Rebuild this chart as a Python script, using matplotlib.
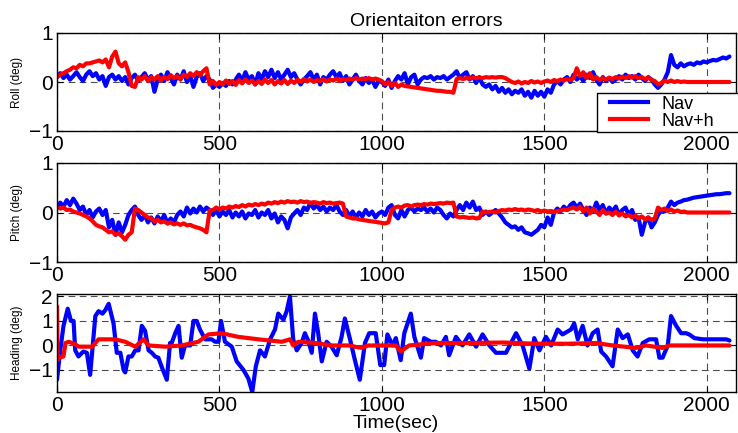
import numpy as np
import matplotlib
matplotlib.use('Agg')
import matplotlib.pyplot as plt
from matplotlib.lines import Line2D
from matplotlib.legend_handler import HandlerBase

plt.rcParams['font.family'] = ['Liberation Sans', 'DejaVu Sans']

# ---------------- data ----------------
t_grid = np.arange(0, 2071, 10)  # sampling instants (s), 208 samples

roll_nav = [
    0.10, 0.18, 0.08, 0.15, 0.05, 0.12, 0.20, 0.10, 0.02, 0.15,
    0.22, 0.12, 0.18, 0.05, 0.12, -0.08, 0.10, 0.15, 0.05, 0.12,
    0.02, 0.10, -0.05, 0.08, 0.15, 0.02, 0.10, 0.18, 0.05, 0.12,
    -0.20, 0.05, 0.15, 0.02, 0.20, 0.08, -0.05, 0.15, 0.05, 0.22,
    0.00, 0.12, -0.10, 0.10, 0.18, 0.02, 0.12, 0.05, -0.12, -0.05,
    -0.10, -0.02, -0.08, 0.02, -0.05, 0.05, 0.15, 0.02, 0.20, 0.05,
    0.12, -0.05, 0.18, 0.05, 0.22, 0.10, 0.25, 0.08, 0.20, 0.05,
    0.15, 0.25, 0.10, 0.18, 0.05, -0.05, 0.05, 0.12, 0.20, 0.05,
    0.15, -0.05, 0.10, 0.05, 0.15, 0.22, 0.10, 0.18, 0.02, 0.12,
    -0.05, 0.05, 0.15, 0.02, -0.05, 0.08, -0.02, 0.05, -0.10, 0.02,
    0.00, -0.08, 0.05, -0.12, 0.02, 0.12, 0.05, 0.18, -0.05, 0.10,
    0.15, -0.05, 0.05, 0.10, 0.08, 0.12, 0.05, 0.10, 0.08, 0.12,
    0.05, 0.10, 0.15, 0.22, 0.08, 0.15, 0.20, 0.05, 0.12, -0.02,
    0.10, -0.05, -0.10, -0.05, -0.15, -0.08, -0.20, -0.12, -0.22, -0.15,
    -0.25, -0.18, -0.22, -0.15, -0.28, -0.20, -0.32, -0.18, -0.28, -0.20,
    -0.30, -0.15, -0.22, -0.05, 0.02, -0.05, 0.05, 0.10, 0.00, 0.15,
    0.05, 0.12, 0.02, 0.15, 0.08, 0.20, 0.05, -0.05, 0.10, 0.02,
    0.08, 0.00, 0.05, 0.12, 0.05, 0.15, 0.08, 0.12, 0.05, 0.15,
    0.08, 0.02, 0.10, 0.05, -0.05, -0.12, -0.05, 0.05, 0.20, 0.55,
    0.35, 0.30, 0.38, 0.32, 0.36, 0.38, 0.35, 0.40, 0.38, 0.42,
    0.40, 0.43, 0.45, 0.44, 0.47, 0.50, 0.48, 0.52,
]

roll_navh = [
    0.10, 0.15, 0.18, 0.22, 0.25, 0.30, 0.28, 0.35, 0.32, 0.38,
    0.38, 0.40, 0.42, 0.44, 0.40, 0.46, 0.30, 0.52, 0.62, 0.38,
    0.32, 0.40, 0.20, -0.08, -0.10, 0.10, 0.05, 0.12, 0.02, 0.10,
    0.05, 0.12, 0.03, 0.10, 0.06, 0.14, 0.08, 0.12, 0.06, 0.15,
    0.10, 0.18, 0.12, 0.20, 0.14, 0.22, 0.28, -0.05, 0.02, -0.06,
    0.00, -0.05, 0.03, -0.04, 0.02, -0.06, 0.04, -0.03, 0.05, -0.02,
    0.03, -0.05, 0.02, -0.04, 0.05, -0.02, 0.04, -0.05, 0.02, -0.03,
    0.04, -0.04, 0.03, -0.02, 0.05, 0.00, 0.06, 0.01, 0.05, 0.00,
    0.04, 0.02, 0.06, 0.01, 0.05, 0.03, 0.07, 0.02, 0.06, 0.04,
    0.07, 0.05, 0.08, 0.05, 0.07, 0.06, 0.08, 0.05, 0.07, 0.05,
    0.02, -0.05, 0.00, -0.08, -0.02, -0.10, -0.05, -0.08, -0.09, -0.10,
    -0.11, -0.12, -0.13, -0.14, -0.15, -0.16, -0.17, -0.18, -0.18, -0.19,
    -0.20, -0.20, -0.22, 0.06, 0.08, 0.06, 0.08, 0.07, 0.09, 0.08,
    0.09, 0.08, 0.10, 0.09, 0.10, 0.09, 0.10, 0.10, 0.08, 0.04,
    0.00, -0.02, 0.01, -0.03, 0.00, -0.02, 0.02, -0.01, 0.01, -0.02,
    0.01, 0.03, 0.00, 0.04, 0.02, 0.05, 0.03, 0.06, 0.04, 0.08,
    0.28, 0.12, 0.20, 0.08, 0.18, 0.05, 0.10, 0.04, 0.08, 0.05,
    0.09, 0.06, 0.10, 0.07, 0.11, 0.08, 0.12, 0.09, 0.12, 0.08,
    0.10, 0.06, 0.09, 0.04, 0.02, -0.05, -0.02, 0.03, 0.00, 0.03,
    0.00, 0.02, 0.00, 0.01, 0.00, 0.00, 0.00, 0.00, 0.00, 0.00,
    0.00, 0.00, 0.00, 0.00, 0.00, 0.00, 0.00, 0.00,
]

pitch_nav = [
    0.10, 0.20, 0.12, 0.25, 0.15, 0.28, 0.18, 0.05, 0.12, -0.05,
    0.05, -0.10, 0.02, 0.08, -0.05, 0.05, -0.30, -0.15, -0.45, -0.20,
    -0.40, -0.25, -0.05, 0.05, 0.12, -0.05, -0.15, -0.05, -0.20, -0.10,
    -0.22, -0.08, -0.18, -0.05, -0.22, -0.12, -0.20, -0.05, 0.02, -0.08,
    0.10, -0.02, 0.08, 0.00, 0.12, 0.02, 0.10, 0.05, -0.05, 0.05,
    -0.08, 0.02, -0.05, 0.05, -0.10, 0.00, -0.08, 0.02, -0.12, -0.02,
    -0.05, 0.05, -0.10, 0.00, -0.05, 0.05, -0.12, -0.02, -0.20, -0.08,
    -0.15, -0.32, -0.10, -0.02, 0.05, -0.05, 0.10, 0.05, 0.20, 0.08,
    0.15, 0.05, 0.12, 0.02, 0.10, 0.05, 0.15, 0.02, -0.05, 0.05,
    -0.08, 0.02, -0.10, 0.00, -0.08, 0.05, -0.05, 0.02, -0.10, -0.02,
    0.02, -0.05, 0.10, 0.15, -0.05, -0.12, 0.05, -0.08, 0.05, 0.10,
    0.02, 0.08, 0.05, 0.10, 0.02, 0.08, 0.00, 0.10, 0.05, -0.05,
    -0.12, -0.02, -0.08, 0.05, 0.15, 0.05, 0.20, 0.10, 0.22, 0.05,
    0.10, -0.05, 0.02, -0.05, 0.00, 0.05, -0.02, -0.10, -0.20, -0.25,
    -0.30, -0.28, -0.35, -0.30, -0.40, -0.42, -0.45, -0.40, -0.35, -0.25,
    -0.30, -0.10, -0.25, 0.00, 0.08, 0.02, 0.12, 0.05, 0.15, 0.20,
    0.10, 0.18, 0.05, -0.05, 0.10, 0.02, 0.20, 0.05, 0.15, -0.02,
    0.10, 0.02, 0.12, -0.05, 0.05, 0.10, -0.05, 0.05, -0.15, -0.10,
    -0.45, -0.20, -0.10, -0.30, -0.20, -0.05, 0.05, 0.02, 0.10, 0.22,
    0.15, 0.20, 0.22, 0.25, 0.26, 0.28, 0.30, 0.31, 0.32, 0.33,
    0.34, 0.35, 0.36, 0.37, 0.37, 0.38, 0.39, 0.39,
]

pitch_navh = [
    0.10, 0.08, 0.10, 0.05, 0.06, 0.02, 0.00, -0.02, -0.05, -0.08,
    -0.12, -0.18, -0.25, -0.28, -0.30, -0.35, -0.40, -0.38, -0.45, -0.42,
    -0.48, -0.55, -0.45, -0.40, 0.08, 0.05, 0.00, -0.05, -0.10, -0.12,
    -0.18, -0.15, -0.20, -0.18, -0.22, -0.20, -0.24, -0.22, -0.25, -0.22,
    -0.26, -0.25, -0.28, -0.30, -0.32, -0.35, -0.40, 0.04, 0.05, 0.10,
    0.06, 0.10, 0.08, 0.12, 0.10, 0.13, 0.11, 0.15, 0.12, 0.16,
    0.14, 0.17, 0.15, 0.18, 0.16, 0.20, 0.18, 0.21, 0.19, 0.22,
    0.20, 0.23, 0.21, 0.22, 0.20, 0.23, 0.21, 0.22, 0.19, 0.21,
    0.20, 0.18, 0.21, 0.19, 0.20, 0.18, 0.19, 0.20, 0.18, -0.08,
    -0.10, -0.12, -0.12, -0.14, -0.15, -0.16, -0.17, -0.18, -0.19, -0.20,
    -0.21, -0.22, -0.20, 0.05, 0.10, 0.12, 0.10, 0.14, 0.15, 0.12,
    0.15, 0.16, 0.15, 0.17, 0.16, 0.18, 0.17, 0.18, 0.19, 0.18,
    0.20, 0.19, 0.20, -0.08, -0.10, -0.09, -0.10, -0.11, -0.10, -0.12,
    -0.11, 0.02, 0.00, 0.01, 0.02, 0.00, 0.03, 0.05, 0.04, 0.06,
    0.05, 0.07, 0.05, 0.06, 0.04, 0.06, 0.05, 0.03, 0.05, 0.02,
    0.04, 0.02, 0.03, 0.01, 0.03, 0.04, 0.06, 0.05, 0.08, 0.10,
    0.06, 0.12, 0.02, 0.10, -0.02, 0.08, 0.02, -0.05, 0.05, -0.02,
    0.00, -0.05, 0.02, -0.06, -0.02, -0.08, -0.05, -0.10, -0.06, -0.12,
    -0.08, -0.14, -0.10, -0.15, -0.12, 0.10, 0.05, 0.08, 0.03, 0.06,
    0.02, 0.04, 0.01, 0.02, 0.00, 0.00, 0.00, 0.00, 0.00, 0.00,
    0.00, 0.00, 0.00, 0.00, 0.00, 0.00, 0.00, 0.00,
]

head_nav_t = [
    0, 10, 20, 33, 43, 51, 56, 66, 77, 82, 92, 102, 118, 128, 140, 149, 159,
    174, 184, 195, 205, 210, 220, 230, 241, 251, 261, 271, 282, 292, 302,
    312, 323, 338, 348, 353, 364, 374, 384, 394, 410, 420, 430, 440, 456,
    476, 487, 497, 505, 517, 538, 553, 574, 589, 601, 612, 625, 640, 656,
    671, 681, 697, 707, 717, 727, 738, 753, 763, 773, 784, 794, 804, 815,
    830, 845, 861, 876, 886, 902, 917, 932, 948, 961, 981, 995, 1007, 1017,
    1033, 1043, 1058, 1069, 1089, 1100, 1120, 1130, 1151, 1166, 1182, 1197,
    1207, 1228, 1248, 1269, 1290, 1310, 1331, 1351, 1382, 1413, 1433, 1454,
    1469, 1485, 1505, 1521, 1541, 1556, 1582, 1592, 1603, 1618, 1633, 1649,
    1664, 1675, 1690, 1710, 1726, 1741, 1757, 1772, 1787, 1803, 1823, 1844,
    1854, 1864, 1880, 1890, 1906, 1921, 1936, 1946, 1962, 1988, 2020, 2060,
    2070,
]
head_nav = [
    -1.4, -0.2, 0.8, 1.5, 1.0, 1.0, -0.2, -0.45, -0.3, -0.25, -0.3, -1.2,
    1.2, 1.4, 1.3, 1.45, 1.7, 0.9, -0.3, -0.3, -1.0, -1.1, -0.45, -0.45,
    -0.2, -0.2, 0.8, 0.6, -0.2, -0.3, -0.45, -0.5, -0.9, -1.4, 0.1, 0.1,
    0.5, 0.8, -0.5, 0.0, 0.0, 1.0, 1.0, 0.65, 0.25, 0.25, 0.15, 0.15, 1.0,
    0.15, -0.05, -0.65, -1.0, -1.35, -1.9, -0.85, -0.2, -0.45, 0.25, 0.65,
    1.3, 1.05, 1.4, 2.0, 0.25, -0.2, 0.1, 0.5, 0.2, -0.3, 1.3, 0.5, -0.65,
    0.15, -0.05, -0.4, 0.35, 1.1, 0.25, -0.6, -1.4, 0.1, 0.5, 0.5, -0.8,
    -0.8, 0.45, 0.0, 0.3, -0.6, 0.5, 1.3, 0.35, -0.5, 0.3, 0.15, 0.15, 0.0,
    0.35, -0.4, 0.35, 0.0, 0.45, -0.05, 0.45, 0.0, -0.3, -0.3, 0.5, 0.0,
    -0.95, 0.3, -0.2, 0.35, 0.0, 0.65, 0.45, 0.65, 0.9, 0.25, 0.8, 0.0,
    0.5, 0.65, -0.25, -0.45, -0.85, 0.65, 0.3, 0.45, -0.2, -0.45, 0.1,
    0.25, 0.25, -0.5, -0.5, 0.0, 1.2, 0.8, 0.5, 0.5, 0.45, 0.3, 0.25, 0.25,
    0.25, 0.2,
]

head_navh_t = [
    0, 2, 5, 20, 26, 36, 56, 67, 87, 108, 128, 150, 179, 210, 241, 266,
    282, 333, 384, 435, 466, 507, 558, 620, 692, 717, 727, 743, 794, 845,
    897, 937, 958, 1000, 1043, 1058, 1084, 1166, 1270, 1372, 1474, 1570,
    1659, 1710, 1782, 1813, 1864, 1885, 1936, 2070,
]
head_navh = [
    1.6, -0.6, -0.5, -0.45, 0.1, 0.15, 0.05, -0.05, -0.05, -0.05, 0.25,
    0.25, 0.25, 0.15, -0.05, 0.25, 0.0, -0.05, 0.0, 0.15, 0.45, 0.5, 0.35,
    0.25, 0.15, 0.25, 0.0, 0.15, 0.1, 0.0, 0.0, -0.1, 0.0, 0.0, 0.0,
    -0.25, 0.0, 0.1, 0.1, 0.12, 0.07, 0.07, 0.1, 0.0, -0.1, 0.0, -0.1,
    0.0, 0.0, 0.0,
]

labels = ['Nav', 'Nav+h']
colors = ['#0000ff', '#ff0000']
x_ticks = [0, 500, 1000, 1500, 2000]

# ---------------- figure ----------------
W, H = 738, 433
fig = plt.figure(figsize=(W / 100, H / 100), dpi=100)


def rect(left, top, right, bottom):
    return [left / W, 1 - bottom / H, (right - left) / W, (bottom - top) / H]


ax1 = fig.add_axes(rect(57, 33, 736, 131))
ax2 = fig.add_axes(rect(57, 163, 736, 262))
ax3 = fig.add_axes(rect(57, 294, 736, 392))

LW = 3.0
series = [
    (ax1, t_grid, roll_nav, t_grid, roll_navh, 'Roll (deg)', (-1, 1), [-1, 0, 1]),
    (ax2, t_grid, pitch_nav, t_grid, pitch_navh, 'Pitch (deg)', (-1, 1), [-1, 0, 1]),
    (ax3, head_nav_t, head_nav, head_navh_t, head_navh, 'Heading (deg)', (-1.9, 2.1), [-1, 0, 1, 2]),
]
for ax, tb, vb, tr, vr, ylab, ylim, yt in series:
    ax.plot(tb, vb, color=colors[0], lw=LW, solid_joinstyle='round', solid_capstyle='round')
    ax.plot(tr, vr, color=colors[1], lw=LW, solid_joinstyle='round', solid_capstyle='round')
    ax.set_xlim(0, 2090)
    ax.set_ylim(*ylim)
    ax.set_xticks(x_ticks)
    ax.set_yticks(yt)
    ax.set_axisbelow(True)
    ax.grid(True, linestyle=(0, (6, 4)), color='0.3', linewidth=0.8)
    ax.tick_params(direction='in', length=4, top=True, right=True,
                   labelsize=15, pad=3, width=0.8)
    for s in ax.spines.values():
        s.set_linewidth(1.0)
        s.set_color('k')
    ax.set_ylabel(ylab, fontsize=8.5)
    ax.yaxis.set_label_coords(-0.050, 0.5)

fig.text(426 / W, 1 - 25.7 / H, 'Orientaiton errors', ha='center', va='baseline', fontsize=14)
fig.text(396 / W, 1 - 428 / H, 'Time(sec)', ha='center', va='baseline', fontsize=14)


class OffsetLine(HandlerBase):
    def create_artists(self, legend, orig_handle, xdescent, ydescent,
                       width, height, fontsize, trans):
        y = height / 2 - ydescent
        x0 = -xdescent + 0.21 * width
        x1 = -xdescent + width
        ln = Line2D([x0, x1], [y, y], color=orig_handle.get_color(),
                    lw=orig_handle.get_linewidth())
        ln.set_transform(trans)
        return [ln]


handles = [Line2D([], [], color=c, lw=LW) for c in colors]
leg = ax1.legend(handles, labels, loc='upper left',
                 bbox_to_anchor=(597 / W, 1 - 129 / H, 150 / W, 36 / H),
                 bbox_transform=fig.transFigure, mode='expand',
                 fontsize=13, frameon=True, fancybox=False, edgecolor='k',
                 framealpha=1, borderpad=0.15, handlelength=2.65,
                 handletextpad=0.78, labelspacing=0.0, borderaxespad=0,
                 handler_map={Line2D: OffsetLine()})
leg.get_frame().set_linewidth(1.0)
leg.set_zorder(10)

fig.savefig('out.png', dpi=100)
